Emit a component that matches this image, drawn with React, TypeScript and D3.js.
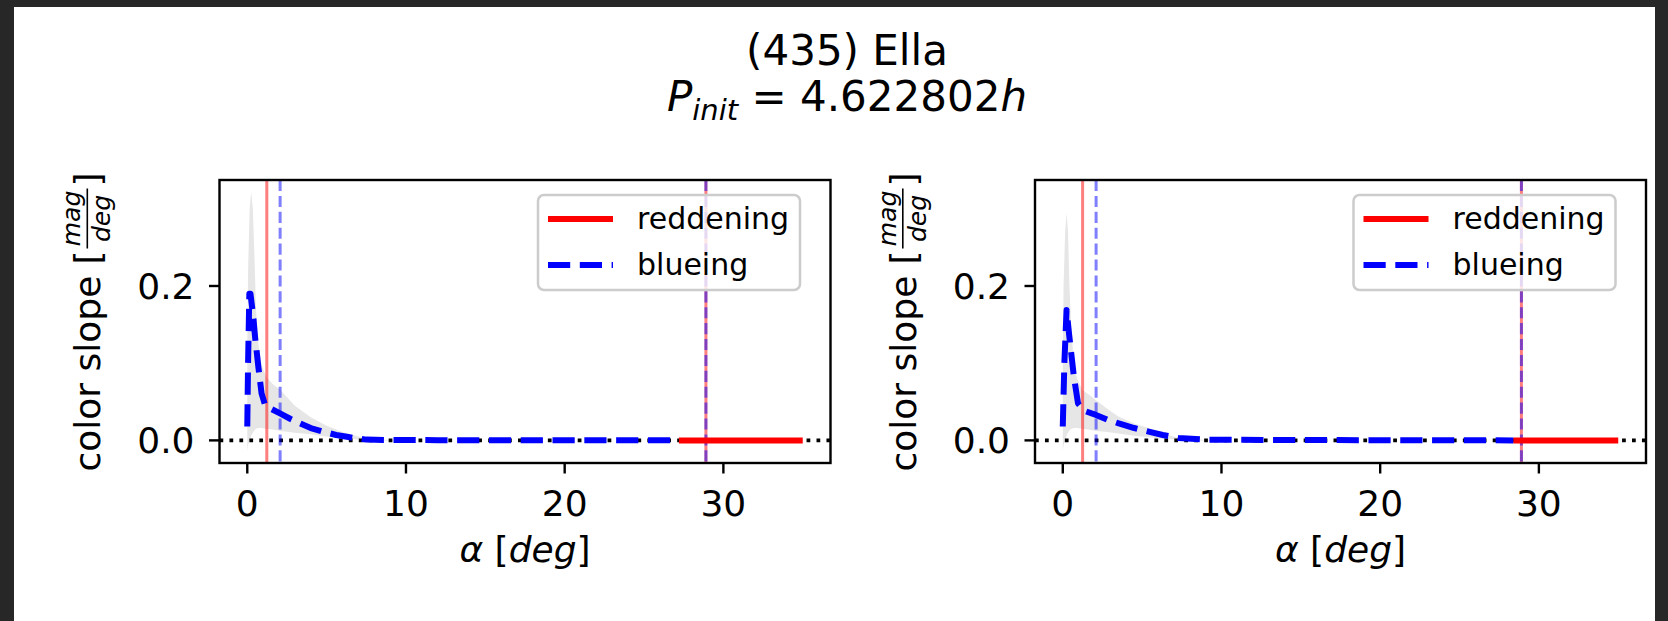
import React from "react";
import * as d3 from "d3";

const FONT = "'DejaVu Sans', 'Noto Sans', sans-serif";

// ---- text ----
const titleName = "(435) Ella";
const periodValue = "4.622802";
const legendLabels = ["reddening", "blueing"];

// ---- axes ----
const xTicks = [0, 10, 20, 30];
const yTicks = [0.0, 0.2];
const xDomain = [-1.75, 36.75];
const yDomain = [-0.0293, 0.3373];

// ---- panel 1 ----
const p1BlueX = [0.0, 0.05, 0.13, 0.2, 0.38, 0.49, 0.7, 0.9, 1.12, 1.43, 2.06, 2.7, 3.32, 4.0, 4.79, 5.6, 6.47, 7.5, 9, 12, 16, 20, 24, 27.2];
const p1BlueY = [0.018, 0.1, 0.19, 0.19, 0.16, 0.134, 0.095, 0.061, 0.046, 0.0416, 0.035, 0.028, 0.022, 0.016, 0.0113, 0.007, 0.004, 0.001, 0.0005, 0.0003, 0.0002, 0.0001, 0.0001, 0.0];
const p1RedX = [27.2, 35];
const p1RedY = [0.0, 0.0];
const p1FillX = [0.0, 0.05, 0.15, 0.25, 0.35, 0.45, 0.55, 0.7, 0.9, 1.2, 1.6, 2.1, 3.0, 4.0, 5.0, 6.0, 7.0, 8.0, 10, 35];
const p1FillLo = [-0.013, -0.006, 0.0, 0.006, 0.01, 0.013, 0.015, 0.016, 0.016, 0.015, 0.014, 0.012, 0.01, 0.008, 0.005, 0.003, 0.001, 0.0, 0.0, 0.0];
const p1FillHi = [0.12, 0.22, 0.3, 0.322, 0.3, 0.24, 0.17, 0.125, 0.098, 0.082, 0.073, 0.065, 0.045, 0.03, 0.019, 0.011, 0.005, 0.001, 0.0, 0.0];
const p1VRed = [1.23, 28.9];
const p1VBlue = [2.07, 28.9];

// ---- panel 2 ----
const p2BlueX = [0.0, 0.1, 0.24, 0.39, 0.55, 0.7, 0.96, 1.34, 2.09, 2.8, 3.53, 4.5, 5.41, 6.3, 7.29, 9, 14, 20, 25, 28.4];
const p2BlueY = [0.018, 0.1, 0.169, 0.139, 0.11, 0.0825, 0.048, 0.0385, 0.033, 0.027, 0.022, 0.016, 0.0113, 0.007, 0.003, 0.001, 0.0005, 0.0002, 0.0001, 0.0];
const p2RedX = [28.4, 35];
const p2RedY = [0.0, 0.0];
const p2FillX = [0.0, 0.05, 0.15, 0.24, 0.33, 0.42, 0.55, 0.7, 0.9, 1.25, 1.6, 2.1, 2.8, 3.5, 4.5, 5.4, 6.3, 7.3, 8.5, 10, 35];
const p2FillLo = [-0.013, -0.006, 0.0, 0.006, 0.01, 0.013, 0.015, 0.016, 0.016, 0.015, 0.014, 0.012, 0.011, 0.009, 0.006, 0.004, 0.002, 0.001, 0.0, 0.0, 0.0];
const p2FillHi = [0.1, 0.2, 0.27, 0.294, 0.27, 0.2, 0.14, 0.1, 0.08, 0.065, 0.06, 0.052, 0.041, 0.031, 0.022, 0.016, 0.009, 0.003, 0.001, 0.0, 0.0];
const p2VRed = [1.25, 28.9];
const p2VBlue = [2.1, 28.9];

const W = 1668;
const H = 621;
const AX_W = 611;
const AX_TOP = 180;
const AX_BOTTOM = 463;

type PanelProps = {
  id: string;
  left: number;
  blueX: number[];
  blueY: number[];
  redX: number[];
  redY: number[];
  fillX: number[];
  fillLo: number[];
  fillHi: number[];
  vRed: number[];
  vBlue: number[];
};

function Panel(p: PanelProps) {
  const left = p.left;
  const right = left + AX_W;
  const top = AX_TOP;
  const bottom = AX_BOTTOM;
  const x = d3.scaleLinear().domain(xDomain).range([left, right]);
  const y = d3.scaleLinear().domain(yDomain).range([bottom, top]);

  const idx = p.fillX.map((_, i) => i);
  const area = d3
    .area<number>()
    .x((i) => x(p.fillX[i]))
    .y0((i) => y(p.fillLo[i]))
    .y1((i) => y(p.fillHi[i]));
  const curve = d3
    .line<[number, number]>()
    .x((d) => x(d[0]))
    .y((d) => y(d[1]));
  const bluePts = p.blueX.map((v, i) => [v, p.blueY[i]] as [number, number]);
  const redPts = p.redX.map((v, i) => [v, p.redY[i]] as [number, number]);

  const legRight = right - 30.5;
  const legLeft = legRight - 262;
  const legTop = top + 15;
  const legH = 95;
  const cy = (top + bottom) / 2;

  return (
    <g>
      <defs>
        <clipPath id={`clip-${p.id}`}>
          <rect x={left} y={top} width={AX_W} height={bottom - top} />
        </clipPath>
      </defs>
      <g clipPath={`url(#clip-${p.id})`}>
        <path d={area(idx) || ""} fill="#e6e6e6" />
        <line x1={left} x2={right} y1={y(0)} y2={y(0)} stroke="#000" strokeWidth={3.75} strokeDasharray="3.75 6.2" />
        {p.vRed.map((v, i) => (
          <line key={`vr${i}`} x1={x(v)} x2={x(v)} y1={top} y2={bottom} stroke="#ff0000" strokeOpacity={0.5} strokeWidth={3} />
        ))}
        {p.vBlue.map((v, i) => (
          <line key={`vb${i}`} x1={x(v)} x2={x(v)} y1={top} y2={bottom} stroke="#0000ff" strokeOpacity={0.5} strokeWidth={3} strokeDasharray="11.1 4.8" />
        ))}
        <path d={curve(bluePts) || ""} fill="none" stroke="#0000ff" strokeWidth={6} strokeDasharray="22.2 9.6" strokeLinejoin="round" />
        <path d={curve(redPts) || ""} fill="none" stroke="#ff0000" strokeWidth={6} />
      </g>
      <rect x={left} y={top} width={AX_W} height={bottom - top} fill="none" stroke="#000" strokeWidth={2.4} />
      {xTicks.map((t) => (
        <g key={`xt${t}`}>
          <line x1={x(t)} x2={x(t)} y1={bottom} y2={bottom + 10.5} stroke="#000" strokeWidth={2.4} />
          <text x={x(t)} y={bottom + 53} textAnchor="middle" fontSize={36} fontFamily={FONT} fill="#000">
            {String(t)}
          </text>
        </g>
      ))}
      {yTicks.map((t) => (
        <g key={`yt${t}`}>
          <line x1={left - 10.5} x2={left} y1={y(t)} y2={y(t)} stroke="#000" strokeWidth={2.4} />
          <text x={left - 25} y={y(t) + 13} textAnchor="end" fontSize={36} fontFamily={FONT} fill="#000">
            {t.toFixed(1)}
          </text>
        </g>
      ))}
      <text x={(left + right) / 2} y={562} textAnchor="middle" fontSize={36} fontFamily={FONT} fill="#000">
        <tspan fontStyle="italic">α</tspan>
        <tspan> [</tspan>
        <tspan fontStyle="italic">deg</tspan>
        <tspan>]</tspan>
      </text>
      <g transform={`translate(${left - 119.5}, ${cy + 150}) rotate(-90)`} fontFamily={FONT} fill="#000">
        <text x={0} y={0} fontSize={36}>color slope</text>
        <text x={207} y={0} fontSize={36}>[</text>
        <text x={253} y={-20} fontSize={25} fontStyle="italic" textAnchor="middle">mag</text>
        <line x1={223} x2={283} y1={-12.7} y2={-12.7} stroke="#000" strokeWidth={1.6} />
        <text x={253} y={10} fontSize={25} fontStyle="italic" textAnchor="middle">deg</text>
        <text x={285} y={0} fontSize={36}>]</text>
      </g>
      <g>
        <rect x={legLeft} y={legTop} width={262} height={legH} rx={6} ry={6} fill="#ffffff" fillOpacity={0.8} stroke="#cccccc" strokeWidth={2.5} />
        <line x1={legLeft + 10} x2={legLeft + 75} y1={legTop + 24} y2={legTop + 24} stroke="#ff0000" strokeWidth={6} />
        <line x1={legLeft + 10} x2={legLeft + 75} y1={legTop + 70} y2={legTop + 70} stroke="#0000ff" strokeWidth={6} strokeDasharray="22.2 9.6" />
        <text x={legLeft + 99} y={legTop + 34} fontSize={30} fontFamily={FONT} fill="#000">{legendLabels[0]}</text>
        <text x={legLeft + 99} y={legTop + 80} fontSize={30} fontFamily={FONT} fill="#000">{legendLabels[1]}</text>
      </g>
    </g>
  );
}

export default function App() {
  const cx = 847;
  return (
    <svg width={W} height={H} viewBox={`0 0 ${W} ${H}`} style={{ position: "fixed", left: 0, top: 0, display: "block" }}>
      <rect x={0} y={0} width={W} height={H} fill="#272727" />
      <rect x={14} y={7} width={W - 14 - 13} height={H - 7} fill="#ffffff" />
      <text x={cx} y={65} textAnchor="middle" fontSize={42} fontFamily={FONT} fill="#000">{titleName}</text>
      <text x={cx} y={111} textAnchor="middle" fontSize={42} fontFamily={FONT} fill="#000">
        <tspan fontStyle="italic">P</tspan>
        <tspan fontStyle="italic" fontSize={29} dy={9}>init</tspan>
        <tspan dy={-9}> = {periodValue}</tspan>
        <tspan fontStyle="italic">h</tspan>
      </text>
      <Panel id="p1" left={219.5} blueX={p1BlueX} blueY={p1BlueY} redX={p1RedX} redY={p1RedY} fillX={p1FillX} fillLo={p1FillLo} fillHi={p1FillHi} vRed={p1VRed} vBlue={p1VBlue} />
      <Panel id="p2" left={1035} blueX={p2BlueX} blueY={p2BlueY} redX={p2RedX} redY={p2RedY} fillX={p2FillX} fillLo={p2FillLo} fillHi={p2FillHi} vRed={p2VRed} vBlue={p2VBlue} />
    </svg>
  );
}
